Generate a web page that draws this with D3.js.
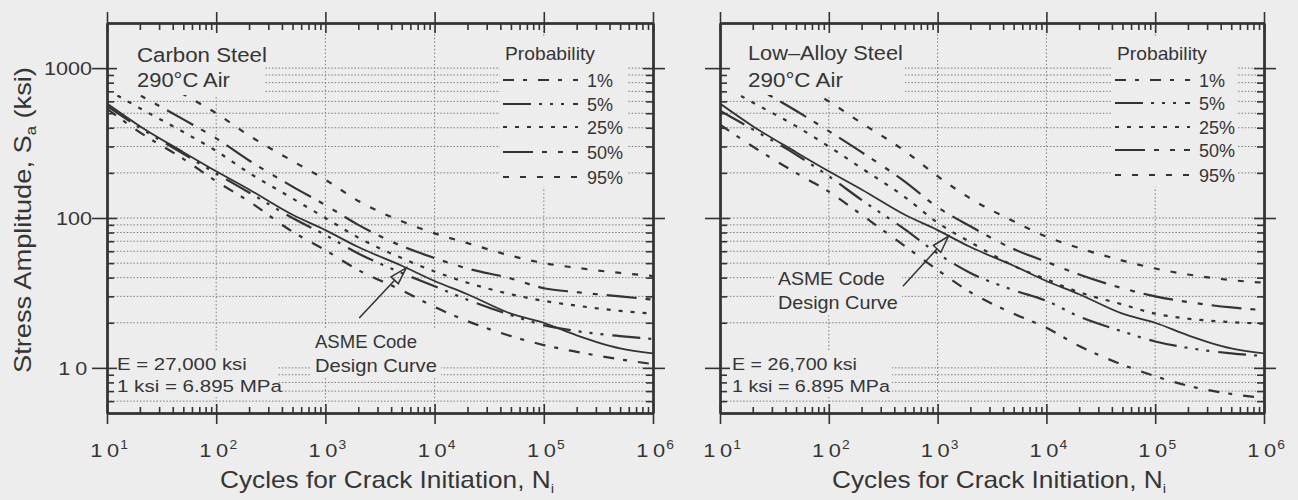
<!DOCTYPE html>
<html>
<head>
<meta charset="utf-8">
<script src="https://cdn.jsdelivr.net/npm/d3@7"></script>
<style>
  body { margin: 0; background: #ededed; }
  svg { display: block; font-family: "Liberation Sans", Arial, sans-serif; }
  text { fill: #353535; }
</style>
</head>
<body>
<div id="chart-container"></div>
<script>
const cycles = [10, 20, 50, 100, 200, 500, 1e3, 2e3, 5e3, 1e4, 2e4, 5e4, 1e5, 2e5, 5e5, 1e6];

// stress amplitude, ksi
const asmeDesign = [580, 410, 275, 205, 155, 105, 83, 64, 48, 38, 31, 23, 20, 16.5, 13.5, 12.5];

const carbonP1 = [535, 373, 248, 176, 129, 81, 61, 45, 33, 25.5, 20.5, 16.3, 14.2, 12.8, 11.4, 10.6];
const carbonP5 = [560, 400, 268, 198, 148, 100, 77, 58, 43, 35, 28.5, 22.5, 19.3, 17.6, 16.3, 15.6];
const carbonP25 = [720, 540, 375, 280, 200, 135, 100, 74, 54, 44, 37, 31, 28, 26, 24, 23];
const carbonP50 = [880, 660, 455, 340, 242, 162, 122, 90, 65, 54, 46, 39.5, 34, 32, 30, 28.5];
const carbonP95 = [1300, 980, 670, 500, 355, 240, 180, 130, 95, 79, 68, 56, 50, 46.5, 43, 41];

const alloyP1 = [420, 300, 200, 150, 105, 65, 45, 32, 23, 18.5, 14, 10.5, 8.8, 7.6, 6.7, 6.3];
const alloyP5 = [520, 390, 265, 190, 132, 84, 58, 43, 33, 28, 22, 17.5, 15, 13.6, 12.5, 12];
const alloyP25 = [780, 590, 410, 300, 215, 138, 93, 69, 48, 39, 32, 26.5, 23, 21.3, 20.2, 19.7];
const alloyP50 = [1000, 760, 520, 380, 275, 175, 118, 88, 62, 51, 42, 34, 30, 27.5, 25.3, 24.3];
const alloyP95 = [1500, 1150, 800, 600, 430, 280, 190, 135, 95, 75, 63, 52, 46, 42, 38.5, 37];

const probLabels = ["1%", "5%", "25%", "50%", "95%"];
const xTickExponents = [1, 2, 3, 4, 5, 6];
const yTickValues = [10, 100, 1000];
const yTickLabels = ["10", "100", "1000"];

const WIDTH = 1298;
const HEIGHT = 500;
const BG = "#ededed";
const INK = "#333";
const GRID = "#7d7d7d";
const Y_TOP = 23;
const Y_BOTTOM = 413;

// line styles per probability, same order as probLabels
const dashes = ["11,9,4,11", "28,8,3,8,3,8,3,9", "4,8", "30,9,5,11,5,9", "6,11"];

const y = d3.scaleLog().domain([5, 2000]).range([Y_BOTTOM, Y_TOP]);

const svg = d3.select("#chart-container").append("svg")
  .attr("width", WIDTH)
  .attr("height", HEIGHT);

svg.append("rect")
  .attr("width", WIDTH)
  .attr("height", HEIGHT)
  .attr("fill", BG);

// text squeezed / stretched to the width it has in the scan
function fitText(parent, x, yy, str, size, width, anchor) {
  const t = parent.append("text")
    .attr("text-anchor", anchor || "start")
    .style("font-size", size + "px")
    .text(str);
  const sx = width ? width / t.node().getComputedTextLength() : 1;
  t.attr("transform", `translate(${x},${yy}) scale(${sx},1)`);
  return t;
}

function box(parent, x0, x1, y0, y1) {
  parent.append("rect")
    .attr("x", x0).attr("y", y0)
    .attr("width", x1 - x0).attr("height", y1 - y0)
    .attr("fill", BG);
}

const panels = [
  {
    left: 107, right: 653,
    series: [carbonP1, carbonP5, carbonP25, carbonP50, carbonP95],
    name: ["Carbon Steel", "290°C Air"], nameX: 137, nameY: [62, 87], nameW: [130, 93], nameBox: 265,
    legendX: 503, legendBox: [500, 627], rows: [80, 104, 127, 152, 177],
    modulus: ["E = 27,000 ksi", "1 ksi = 6.895 MPa"], modX: 117, modW: [130, 165], modBox: 278,
    asmeX: 315, asmeY: [348, 372], asmeW: [102, 122], asmeBox: [311, 441, 330, 378],
    arrowFrom: [2040, 21.5], arrowTo: [5500, 46.5],
    yLabels: true
  },
  {
    left: 720, right: 1264,
    series: [alloyP1, alloyP5, alloyP25, alloyP50, alloyP95],
    name: ["Low\u2013Alloy Steel", "290°C Air"], nameX: 748, nameY: [60, 87], nameW: [155, 95], nameBox: 905,
    legendX: 1115, legendBox: [1112, 1238], rows: [80, 103, 127, 150, 175],
    modulus: ["E = 26,700 ksi", "1 ksi = 6.895 MPa"], modX: 732, modW: [125, 158], modBox: 892,
    asmeX: 778, asmeY: [285, 309], asmeW: [107, 120], asmeBox: [774, 902, 267, 315],
    arrowFrom: [480, 35], arrowTo: [1260, 75.5],
    yLabels: false
  }
];

const minorX = [];
for (let e = 1; e < 6; e++) for (let m = 2; m < 10; m++) minorX.push(m * Math.pow(10, e));
const majorX = xTickExponents.map(e => Math.pow(10, e));
const gridY = [];
[6, 7, 8, 9].forEach(m => gridY.push(m));
for (let e = 1; e < 3; e++) for (let m = 1; m < 10; m++) gridY.push(m * Math.pow(10, e));
gridY.push(1000);
const minorY = gridY.filter(v => yTickValues.indexOf(v) < 0);

panels.forEach((p, pi) => {
  const x = d3.scaleLog().domain([10, 1e6]).range([p.left, p.right]);
  const g = svg.append("g");

  // dotted grid
  g.selectAll(".hgrid").data(gridY).enter().append("line")
    .attr("x1", p.left).attr("x2", p.right)
    .attr("y1", d => y(d)).attr("y2", d => y(d))
    .attr("stroke", GRID).attr("stroke-width", 1)
    .attr("stroke-dasharray", "1.5,1.8");
  g.selectAll(".vgrid").data(majorX.slice(1, 5)).enter().append("line")
    .attr("x1", d => x(d)).attr("x2", d => x(d))
    .attr("y1", Y_TOP).attr("y2", Y_BOTTOM)
    .attr("stroke", GRID).attr("stroke-width", 1)
    .attr("stroke-dasharray", "1.5,2.2");

  // curves
  g.append("clipPath").attr("id", "clip" + pi)
    .append("rect")
    .attr("x", p.left).attr("y", Y_TOP)
    .attr("width", p.right - p.left).attr("height", Y_BOTTOM - Y_TOP);

  const line = d3.line()
    .x(d => x(d[0]))
    .y(d => y(d[1]))
    .curve(d3.curveMonotoneX);

  const curves = g.append("g").attr("clip-path", `url(#clip${pi})`);
  curves.append("path")
    .attr("d", line(cycles.map((n, i) => [n, asmeDesign[i]])))
    .attr("fill", "none").attr("stroke", INK).attr("stroke-width", 1.8);
  p.series.forEach((vals, i) => {
    curves.append("path")
      .attr("d", line(cycles.map((n, k) => [n, vals[k]])))
      .attr("fill", "none").attr("stroke", INK).attr("stroke-width", 2.2)
      .attr("stroke-dasharray", dashes[i]);
  });

  // blank areas behind the notes
  box(g, p.left + 1, p.nameBox, Y_TOP + 2, 95);
  box(g, p.legendBox[0], p.legendBox[1], 36, 187);
  box(g, p.left + 1, p.modBox, 352, 397);
  box(g, p.asmeBox[0], p.asmeBox[1], p.asmeBox[2], p.asmeBox[3]);

  // axes on all four sides, major ticks cross the frame
  const axes = g.append("g");
  const addAxis = (axis, tx, ty) => {
    const a = axes.append("g")
      .attr("transform", `translate(${tx},${ty})`)
      .call(axis.tickSizeOuter(0).tickFormat(""));
    a.select(".domain").attr("stroke", INK).attr("stroke-width", 2);
    a.selectAll(".tick line").attr("stroke", INK).attr("stroke-width", 1.6);
  };
  addAxis(d3.axisBottom(x).tickValues(minorX).tickSize(-6), 0, Y_BOTTOM);
  addAxis(d3.axisBottom(x).tickValues(majorX).tickSize(-9), 0, Y_BOTTOM);
  addAxis(d3.axisBottom(x).tickValues(majorX).tickSize(11), 0, Y_BOTTOM);
  addAxis(d3.axisTop(x).tickValues(minorX).tickSize(-7), 0, Y_TOP);
  addAxis(d3.axisTop(x).tickValues(majorX).tickSize(-10), 0, Y_TOP);
  addAxis(d3.axisTop(x).tickValues(majorX).tickSize(11), 0, Y_TOP);
  addAxis(d3.axisLeft(y).tickValues(minorY).tickSize(-7), p.left, 0);
  addAxis(d3.axisLeft(y).tickValues(yTickValues).tickSize(-10), p.left, 0);
  addAxis(d3.axisLeft(y).tickValues(yTickValues).tickSize(15), p.left, 0);
  addAxis(d3.axisRight(y).tickValues(minorY).tickSize(-7), p.right, 0);
  addAxis(d3.axisRight(y).tickValues(yTickValues).tickSize(-10), p.right, 0);
  addAxis(d3.axisRight(y).tickValues(yTickValues).tickSize(12), p.right, 0);

  // x tick labels 10^n, digits spaced apart as in the scan
  xTickExponents.forEach(e => {
    const t = g.append("text")
      .attr("transform", `translate(${x(Math.pow(10, e)) + 2},457) scale(1.15,1)`)
      .attr("text-anchor", "middle")
      .style("font-size", "19px");
    t.append("tspan").text("1");
    t.append("tspan").attr("dx", 4).text("0");
    t.append("tspan").attr("dy", -8).attr("dx", 1).style("font-size", "12px").text(e);
  });

  if (p.yLabels) {
    yTickValues.forEach((v, i) => {
      const t = fitText(g, 92, y(v) + 7, yTickLabels[i], 18, null, "end");
      t.attr("transform", `translate(92,${y(v) + 7}) scale(1.2,1)`);
      if (v === 10) t.style("letter-spacing", "4px");
    });
  }

  // x axis title
  const xt = g.append("text")
    .attr("text-anchor", "middle")
    .style("font-size", "23px");
  xt.append("tspan").text("Cycles for Crack Initiation, N");
  xt.append("tspan").attr("dy", 5).style("font-size", "13px").text("i");
  const sxt = 334 / xt.node().getComputedTextLength();
  xt.attr("transform", `translate(${(p.left + p.right) / 2 + 7},488) scale(${sxt},1)`);

  // material label
  fitText(g, p.nameX, p.nameY[0], p.name[0], 21, p.nameW[0]);
  fitText(g, p.nameX, p.nameY[1], p.name[1], 21, p.nameW[1]);

  // legend
  fitText(g, p.legendX + 2, 60, "Probability", 18, 90);
  probLabels.forEach((lab, i) => {
    g.append("line")
      .attr("x1", p.legendX).attr("x2", p.legendX + 75)
      .attr("y1", p.rows[i]).attr("y2", p.rows[i])
      .attr("stroke", INK).attr("stroke-width", 2.2)
      .attr("stroke-dasharray", dashes[i]);
    fitText(g, p.legendX + 84, p.rows[i] + 7, lab, 18, null);
  });

  // modulus note
  fitText(g, p.modX, 370, p.modulus[0], 17, p.modW[0]);
  fitText(g, p.modX, 392, p.modulus[1], 17, p.modW[1]);

  // ASME design curve note with open arrow
  fitText(g, p.asmeX, p.asmeY[0], "ASME Code", 18, p.asmeW[0]);
  fitText(g, p.asmeX, p.asmeY[1], "Design Curve", 18, p.asmeW[1]);
  const ax0 = x(p.arrowFrom[0]), ay0 = y(p.arrowFrom[1]);
  const ax1 = x(p.arrowTo[0]), ay1 = y(p.arrowTo[1]);
  const len = Math.hypot(ax1 - ax0, ay1 - ay0);
  const ux = (ax1 - ax0) / len, uy = (ay1 - ay0) / len;
  const hl = 17, hw = 5;
  g.append("line")
    .attr("x1", ax0).attr("y1", ay0)
    .attr("x2", ax1 - ux * hl).attr("y2", ay1 - uy * hl)
    .attr("stroke", INK).attr("stroke-width", 1.5);
  g.append("polygon")
    .attr("points", [
      [ax1, ay1],
      [ax1 - ux * hl - uy * hw, ay1 - uy * hl + ux * hw],
      [ax1 - ux * hl + uy * hw, ay1 - uy * hl - ux * hw]
    ].map(d => d.join(",")).join(" "))
    .attr("fill", "none").attr("stroke", INK).attr("stroke-width", 1.5);
});

// shared y axis title
const yt = svg.append("text")
  .attr("text-anchor", "middle")
  .style("font-size", "23px");
yt.append("tspan").text("Stress Amplitude, S");
yt.append("tspan").attr("dy", 5).style("font-size", "14px").text("a");
yt.append("tspan").attr("dy", -5).text(" (ksi)");
const syt = 306 / yt.node().getComputedTextLength();
yt.attr("transform", `translate(31,220) rotate(-90) scale(${syt},1)`);
</script>
</body>
</html>
